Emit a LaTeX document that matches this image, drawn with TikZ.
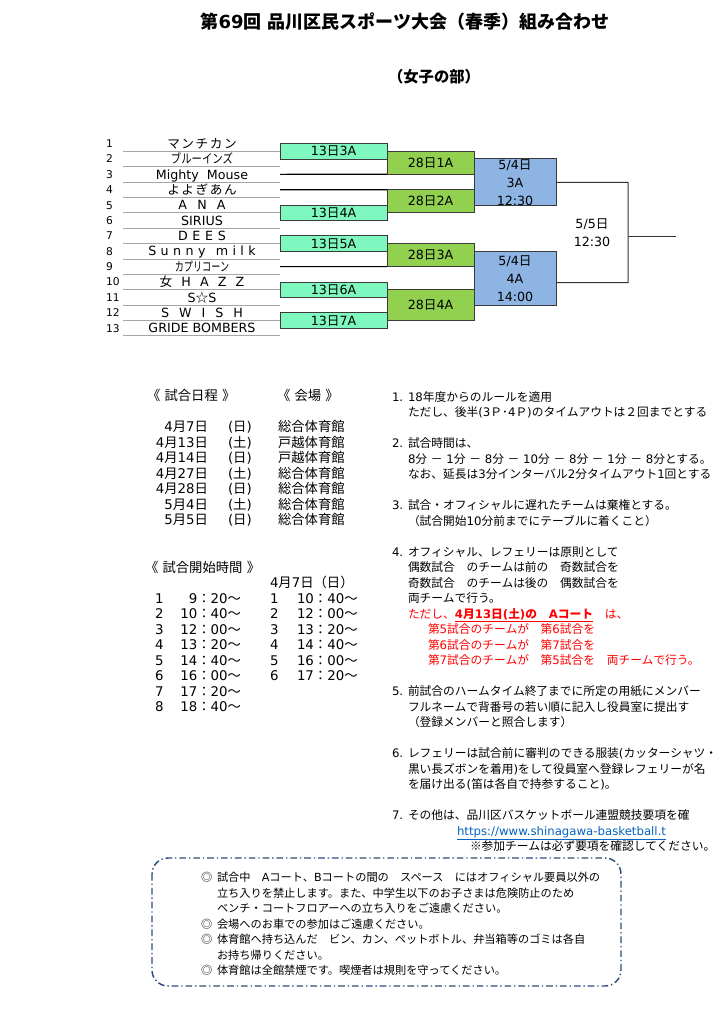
\documentclass[tikz,border=0pt]{standalone}
\usepackage{fontspec}
\usepackage{graphicx}
\setmainfont{DejaVu Sans}
\newfontfamily\jpfont{Noto Sans CJK JP}
% --- automatic switch to the Japanese font for CJK characters ---
\newXeTeXintercharclass\JPcls
\newcount\jpcc
\def\setjprange#1#2{\jpcc=#1\relax
  \loop
    \XeTeXcharclass\jpcc=\JPcls
    \ifnum\jpcc<#2\relax
    \advance\jpcc by 1
  \repeat}
\setjprange{"3000}{"30FF}
\setjprange{"4E00}{"9FFF}
\setjprange{"FF00}{"FFEF}
\XeTeXcharclass"2606=\JPcls
\XeTeXcharclass"25CE=\JPcls
\XeTeXcharclass"203B=\JPcls
\XeTeXinterchartokenstate=1
\XeTeXinterchartoks 0 \JPcls = {\jpfont}
\XeTeXinterchartoks 4095 \JPcls = {\jpfont}
\XeTeXinterchartoks \JPcls 0 = {\rmfamily}
\XeTeXinterchartoks \JPcls 4095 = {\rmfamily}
\makeatletter
\newcommand\spaced[2]{\def\sp@gap{\hskip#1\relax}\let\sp@sep\relax\@tfor\sp@t:=#2\do{\sp@sep\sp@t\let\sp@sep\sp@gap}}
\makeatother
\definecolor{mint}{HTML}{7FF8C0}
\definecolor{grn}{HTML}{92D050}
\definecolor{blu}{HTML}{8DB4E2}
\definecolor{sepgray}{HTML}{A6A6A6}
\definecolor{boxline}{HTML}{3A3A3A}
\definecolor{redtxt}{HTML}{FF0000}
\definecolor{linkblue}{HTML}{0563C1}
\definecolor{navy}{HTML}{2F4B7C}
\tikzset{
  every node/.style={inner sep=0pt, outer sep=0pt},
  fz/.style={font=\fontsize{#1}{#1}\selectfont, text height=0.86*#1pt, text depth=0.12*#1pt},
  titlef/.style={fz=13.5, font=\fontsize{13.5}{13.5}\selectfont\bfseries},
  subf/.style={fz=11.5, font=\fontsize{11.5}{11.5}\selectfont\bfseries},
  num/.style={fz=8},
  team/.style={fz=9.5},
  r13/.style={fz=9.5, draw=boxline, line width=0.75pt, fill=mint, minimum width=80.25pt, minimum height=11.55pt},
  r28/.style={fz=9.5, draw=boxline, line width=0.75pt, fill=grn, minimum width=65.25pt},
  rblue/.style={draw=boxline, line width=0.75pt, fill=blu, minimum width=61.5pt},
  blt/.style={fz=9.5},
  sepline/.style={draw=sepgray, line width=0.6pt},
  blk/.style={draw=black, line width=0.9pt},
  fin/.style={draw=black!80, line width=0.75pt},
  sch/.style={fz=10},
  rule/.style={fz=8.8},
  redrule/.style={fz=8.8, text=redtxt},
  notef/.style={fz=8.4},
  notebox/.style={draw=navy, line width=1.1pt, rounded corners=12pt, dash pattern=on 5pt off 2.2pt on 1pt off 2.2pt}
}
\begin{document}
\begin{tikzpicture}[x=0.75pt,y=-0.75pt]
\useasboundingbox (0,0) rectangle (724,1024);
\clip (0,0) rectangle (724,1024);

% titles
\node[titlef] (title) at (405,22) {第69回 品川区民スポーツ大会（春季）組み合わせ};
\node[subf] (sub) at (434,77) {（女子の部）};

% teams
\foreach \nm [count=\i] in {
  {\spaced{0.12em}{マンチカン}},
  {\scalebox{0.82}[1]{ブルーインズ}},
  {Mighty\ \ Mouse},
  {\spaced{0.12em}{よよぎあん}},
  {\spaced{0.8em}{ANA}},
  {SIRIUS},
  {\spaced{0.37em}{DEES}},
  {\spaced{0.35em}{Sunny}\hskip0.8em\spaced{0.35em}{milk}},
  {\scalebox{0.72}[1]{カプリコーン}},
  {\spaced{0.72em}{女HAZZ}},
  {S☆S},
  {\spaced{0.79em}{SWISH}},
  {GRIDE BOMBERS}} {
  \pgfmathsetmacro\yy{143.6+15.375*(\i-1)}
  \pgfmathsetmacro\ys{151.3+15.375*(\i-1)}
  \node[num, anchor=west] (n\i) at (106,\yy) {\i};
  \node[team] (t\i) at (202,\yy) {\nm};
  \coordinate (sa\i) at (123,\ys);
  \coordinate (sb\i) at (280,\ys);
  \draw[sepline] (sa\i) -- (sb\i);
}

% first round (13th)
\node[r13] (a1) at (333.5,151.3) {13日3A};
\node[r13] (a2) at (333.5,212.8) {13日4A};
\node[r13] (a3) at (333.5,243.55) {13日5A};
\node[r13] (a4) at (333.5,289.7) {13日6A};
\node[r13] (a5) at (333.5,320.5) {13日7A};

% second round (28th)
\node[r28, minimum height=17.3pt] (d1) at (430.5,162.8) {28日1A};
\node[r28, minimum height=17.3pt] (d2) at (430.5,201.25) {28日2A};
\node[r28, minimum height=17.3pt] (d3) at (430.5,255.1) {28日3A};
\node[r28, minimum height=23.1pt] (d4) at (430.5,305.1) {28日4A};

% byes
\coordinate (l3) at (280,174.35);
\coordinate (l4) at (280,189.7);
\coordinate (l9) at (280,266.6);
\draw[blk] (l3) -- (d1.south west);
\draw[blk] (l4) -- (d2.north west);
\draw[blk] (l9) -- (d3.south west);

% semi finals
\node[rblue, minimum height=34.9pt] (b1) at (515,182.25) {};
\node[rblue, minimum height=40.5pt] (b2) at (515,278.5) {};
\node[blt] (b1a) at (515,165) {5/4日};
\node[blt] (b1b) at (515,182.7) {3A};
\node[blt] (b1c) at (515,200.7) {12:30};
\node[blt] (b2a) at (515,260.5) {5/4日};
\node[blt] (b2b) at (515,279) {4A};
\node[blt] (b2c) at (515,297) {14:00};

% final
\coordinate (fa) at (628,182.3);
\coordinate (fb) at (628,282.7);
\draw[fin] (b1.east) -- (fa) -- (fb) -- (b2.east |- fb);
\coordinate (fo1) at (628,236.7);
\coordinate (fo2) at (676,236.7);
\draw[fin] (fo1) -- (fo2);
\node[blt] (fl1) at (592,223.5) {5/5日};
\node[blt] (fl2) at (592,242) {12:30};

% schedule
\node[sch, anchor=west] (sh1) at (147,396) {《\ 試合日程\ 》};
\node[sch, anchor=west] (sh2) at (277,396) {《\ 会場\ 》};
\foreach \d/\w/\v [count=\k] in {4月7日/(日)/総合体育館, 4月13日/(土)/戸越体育館, 4月14日/(日)/戸越体育館, 4月27日/(土)/総合体育館, 4月28日/(日)/総合体育館, 5月4日/(土)/総合体育館, 5月5日/(日)/総合体育館} {
  \pgfmathsetmacro\yy{427+15.5*(\k-1)}
  \node[sch, anchor=east] (sd\k) at (208,\yy) {\d};
  \node[sch, anchor=west] (sw\k) at (228,\yy) {\w};
  \node[sch, anchor=west] (sv\k) at (278,\yy) {\v};
}

% start times
\node[sch, anchor=west] (th1) at (145,568) {《\ 試合開始時間\ 》};
\node[sch, anchor=west] (th2) at (270,583) {4月7日（日）};
\foreach \t [count=\k] in {9：20～, 10：40～, 12：00～, 13：20～, 14：40～, 16：00～, 17：20～, 18：40～} {
  \pgfmathsetmacro\yy{598.5+15.5*(\k-1)}
  \node[sch, anchor=west] (tn\k) at (155,\yy) {\k};
  \node[sch, anchor=east] (tt\k) at (241,\yy) {\t};
}
\foreach \t [count=\k] in {10：40～, 12：00～, 13：20～, 14：40～, 16：00～, 17：20～} {
  \pgfmathsetmacro\yy{598.5+15.5*(\k-1)}
  \node[sch, anchor=west] (un\k) at (270,\yy) {\k};
  \node[sch, anchor=west] (ut\k) at (297,\yy) {\t};
}

% rules
\node[rule, anchor=west] (q1) at (392,397) {1.};
\node[rule, anchor=west] (r1a) at (408,397) {18年度からのルールを適用};
\node[rule, anchor=west] (r1b) at (408,412.5) {ただし、後半(3Ｐ･4Ｐ)のタイムアウトは２回までとする};
\node[rule, anchor=west] (q2) at (392,443.5) {2.};
\node[rule, anchor=west] (r2a) at (408,443.5) {試合時間は、};
\node[rule, anchor=west] (r2b) at (408,459) {8分 － 1分 － 8分 － 10分 － 8分 － 1分 － 8分とする。};
\node[rule, anchor=west] (r2c) at (408,474.5) {なお、延長は3分インターバル2分タイムアウト1回とする};
\node[rule, anchor=west] (q3) at (392,505.5) {3.};
\node[rule, anchor=west] (r3a) at (408,505.5) {試合・オフィシャルに遅れたチームは棄権とする。};
\node[rule, anchor=west] (r3b) at (408,521) {（試合開始10分前までにテーブルに着くこと）};
\node[rule, anchor=west] (q4) at (392,552) {4.};
\node[rule, anchor=west] (r4a) at (408,552) {オフィシャル、レフェリーは原則として};
\node[rule, anchor=west] (r4b) at (408,567.5) {偶数試合　のチームは前の　奇数試合を};
\node[rule, anchor=west] (r4c) at (408,583) {奇数試合　のチームは後の　偶数試合を};
\node[rule, anchor=west] (r4d) at (408,598.5) {両チームで行う。};
\node[redrule, anchor=west] (r4e) at (408,614) {ただし、\underline{\bfseries 4月13日(土)の　Aコート}　は、};
\node[redrule, anchor=west] (r4f) at (428,629.5) {第5試合のチームが　第6試合を};
\node[redrule, anchor=west] (r4g) at (428,645) {第6試合のチームが　第7試合を};
\node[redrule, anchor=west] (r4h) at (428,660.5) {第7試合のチームが　第5試合を　両チームで行う。};
\node[rule, anchor=west] (q5) at (392,691.5) {5.};
\node[rule, anchor=west] (r5a) at (408,691.5) {前試合のハームタイム終了までに所定の用紙にメンバー};
\node[rule, anchor=west] (r5b) at (408,707) {フルネームで背番号の若い順に記入し役員室に提出す};
\node[rule, anchor=west] (r5c) at (408,722.5) {（登録メンバーと照合します）};
\node[rule, anchor=west] (q6) at (392,753.5) {6.};
\node[rule, anchor=west] (r6a) at (408,753.5) {レフェリーは試合前に審判のできる服装(カッターシャツ・};
\node[rule, anchor=west] (r6b) at (408,769) {黒い長ズボンを着用)をして役員室へ登録レフェリーが名};
\node[rule, anchor=west] (r6c) at (408,784.5) {を届け出る(笛は各自で持参すること)。};
\node[rule, anchor=west] (q7) at (392,815.5) {7.};
\node[rule, anchor=west] (r7a) at (408,815.5) {その他は、品川区バスケットボール連盟競技要項を確};
\node[rule, anchor=west, text=linkblue] (r7b) at (457,831) {\underline{https://www.shinagawa-basketball.t}};
\node[rule, anchor=west] (r7c) at (470,846.5) {※参加チームは必ず要項を確認してください。};

% notes
\draw[notebox] (152,858) rectangle (621,986);
\node[notef, anchor=west] (m1) at (201,877.5) {◎};
\node[notef, anchor=west] (p1) at (217,877.5) {試合中　Aコート、Bコートの間の　スペース　にはオフィシャル要員以外の};
\node[notef, anchor=west] (p2) at (217,893) {立ち入りを禁止します。また、中学生以下のお子さまは危険防止のため};
\node[notef, anchor=west] (p3) at (217,908.5) {ベンチ・コートフロアーへの立ち入りをご遠慮ください。};
\node[notef, anchor=west] (m2) at (201,924) {◎};
\node[notef, anchor=west] (p4) at (217,924) {会場へのお車での参加はご遠慮ください。};
\node[notef, anchor=west] (m3) at (201,939.5) {◎};
\node[notef, anchor=west] (p5) at (217,939.5) {体育館へ持ち込んだ　ビン、カン、ペットボトル、弁当箱等のゴミは各自};
\node[notef, anchor=west] (p6) at (217,955) {お持ち帰りください。};
\node[notef, anchor=west] (m4) at (201,970.5) {◎};
\node[notef, anchor=west] (p7) at (217,970.5) {体育館は全館禁煙です。喫煙者は規則を守ってください。};
\end{tikzpicture}
\end{document}
